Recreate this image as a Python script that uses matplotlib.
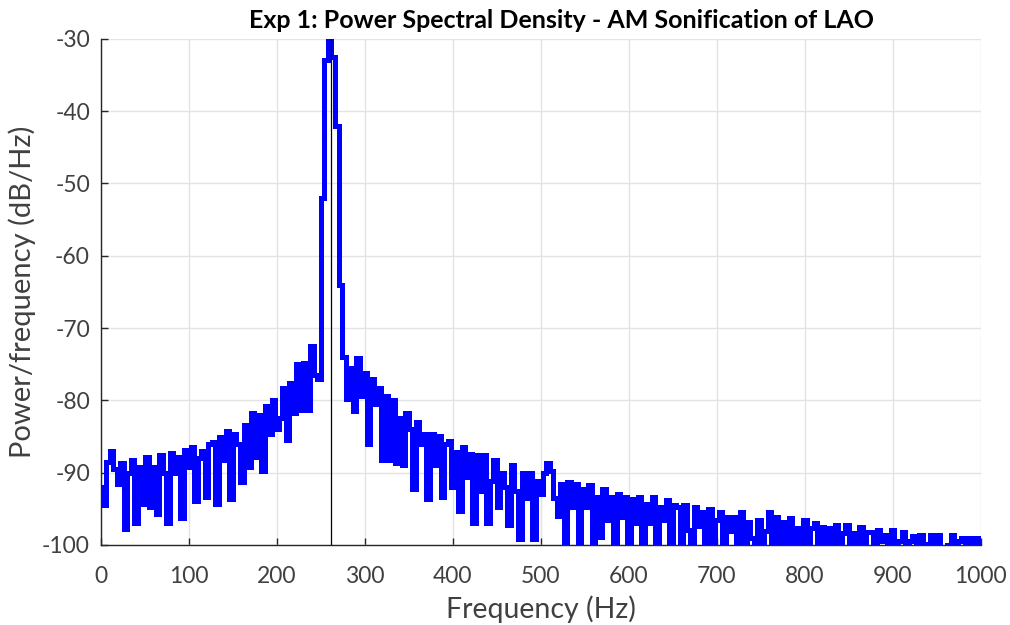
import matplotlib
matplotlib.use('Agg')

import numpy as np
import matplotlib.pyplot as plt

plt.rcParams['font.family'] = ['Lato', 'DejaVu Sans']
plt.rcParams['axes.unicode_minus'] = False

# PSD values, 4 Hz apart, one list per 100 Hz
psd_000 = [-92, -94.5, -88.5, -87, -89.5, -91.5, -88.7, -97.8, -90, -88.3, -97, -89.2, -94.3,
           -87.8, -94.8, -89.2, -95.7, -87.6, -90, -97, -87.3, -90, -87.8, -96.2, -86.9]
psd_100 = [-89.2, -86.4, -93.9, -88, -87, -93.4, -86, -85.7, -94.3, -85, -88.3, -84.3, -93.6,
           -84.6, -86, -91.3, -83.4, -89.2, -81.8, -87.8, -82, -89.7, -80.8, -84.6, -80]
psd_200 = [-84, -82.5, -78.3, -85.5, -77.6, -81.8, -75, -81.3, -74.8, -81.3, -72.5, -76.5, -77,
           -52, -33, -30.2, -32.5, -42, -64, -74, -79.8, -75.5, -81.5, -74.2, -79.4]
psd_300 = [-76.2, -86, -77, -80.5, -78.3, -88.2, -79.4, -88.3, -80, -88.6, -82.4, -89, -81.7,
           -84, -92.3, -83, -86, -84.7, -93.6, -84.7, -89, -84.9, -93.4, -86, -85.6]
psd_400 = [-92, -87.2, -95.3, -86.5, -90.6, -87.4, -96.9, -87.6, -92.5, -87.6, -96.9, -91.1, -88.3,
           -94.8, -90, -92, -97.3, -89, -92.5, -99.2, -90, -93.5, -90, -99.2, -91.1]
psd_500 = [-93, -90, -88.6, -89.8, -93.5, -96, -91.5, -101, -91.3, -94.8, -91.5, -101, -92.2,
           -94.8, -91.7, -101, -93.3, -98.9, -92.2, -96.6, -93.3, -101, -92.9, -96.1, -93.3]
psd_600 = [-101, -93.6, -97, -93.3, -101, -94.3, -97, -93.3, -101, -94.7, -96.6, -93.8, -101,
           -94.5, -94.7, -101, -94.5, -97.9, -101, -94.7, -97.4, -95.4, -101, -95, -101]
psd_700 = [-96.6, -95.4, -101, -96.1, -98, -96.1, -101, -95.4, -101, -96.8, -99, -101, -96.6,
           -101, -98, -95.4, -100.5, -96.1, -101, -96.8, -100, -96.3, -101, -97.7, -101]
psd_800 = [-96.5, -101, -97.7, -97, -100.5, -97.5, -101, -97.7, -100.5, -97.2, -101, -98.4, -97.2,
           -100.5, -98.4, -100, -97.5, -100.5, -98.2, -98.2, -101, -97.9, -99.5, -98.6, -101]
psd_900 = [-97.9, -101, -99.5, -98.2, -101, -99.5, -98.8, -101, -98.6, -101, -99.8, -98.6, -101,
           -98.6, -101, -101.5, -100, -98.6, -101, -99.5, -99, -101, -99, -101, -99, -99.8]

psd = np.concatenate([psd_000, psd_100, psd_200, psd_300, psd_400,
                      psd_500, psd_600, psd_700, psd_800, psd_900])
freq = np.arange(len(psd)) * 4.0

carrier = 261.6  # marked frequency (Hz)

fig = plt.figure(figsize=(10.1, 6.25), dpi=100)
ax = fig.add_axes([0.1, 0.128, 0.871, 0.81])

ax.plot(freq, psd, color='#0000ff', linewidth=3.6, drawstyle='steps-mid',
        solid_joinstyle='miter', zorder=3)
ax.axvline(carrier, color='black', linewidth=0.9, zorder=4)

ax.set_xlim(0, 1000)
ax.set_ylim(-100, -30)
ax.set_xticks(np.arange(0, 1001, 100))
ax.set_yticks(np.arange(-100, -29, 10))

ax.grid(True, color='#e3e3e3', linewidth=1.0)
ax.set_axisbelow(True)
for side in ['top', 'right']:
    ax.spines[side].set_visible(False)
for side in ['left', 'bottom']:
    ax.spines[side].set_color('#262626')
    ax.spines[side].set_linewidth(1.0)
ax.tick_params(direction='in', length=5, width=1, colors='#262626',
               labelcolor='#404040', labelsize=16.5)
ax.tick_params(axis='x', pad=15)
ax.tick_params(axis='y', pad=8)

ax.set_xlabel('Frequency (Hz)', fontsize=20.5, color='#404040', labelpad=6)
ax.set_ylabel('Power/frequency (dB/Hz)', fontsize=21, color='#404040', labelpad=4)
ax.set_title('Exp 1: Power Spectral Density - AM Sonification of LAO',
             fontsize=18, fontweight='bold', color='black', pad=8, x=0.523)

fig.savefig('out.png', dpi=100)
